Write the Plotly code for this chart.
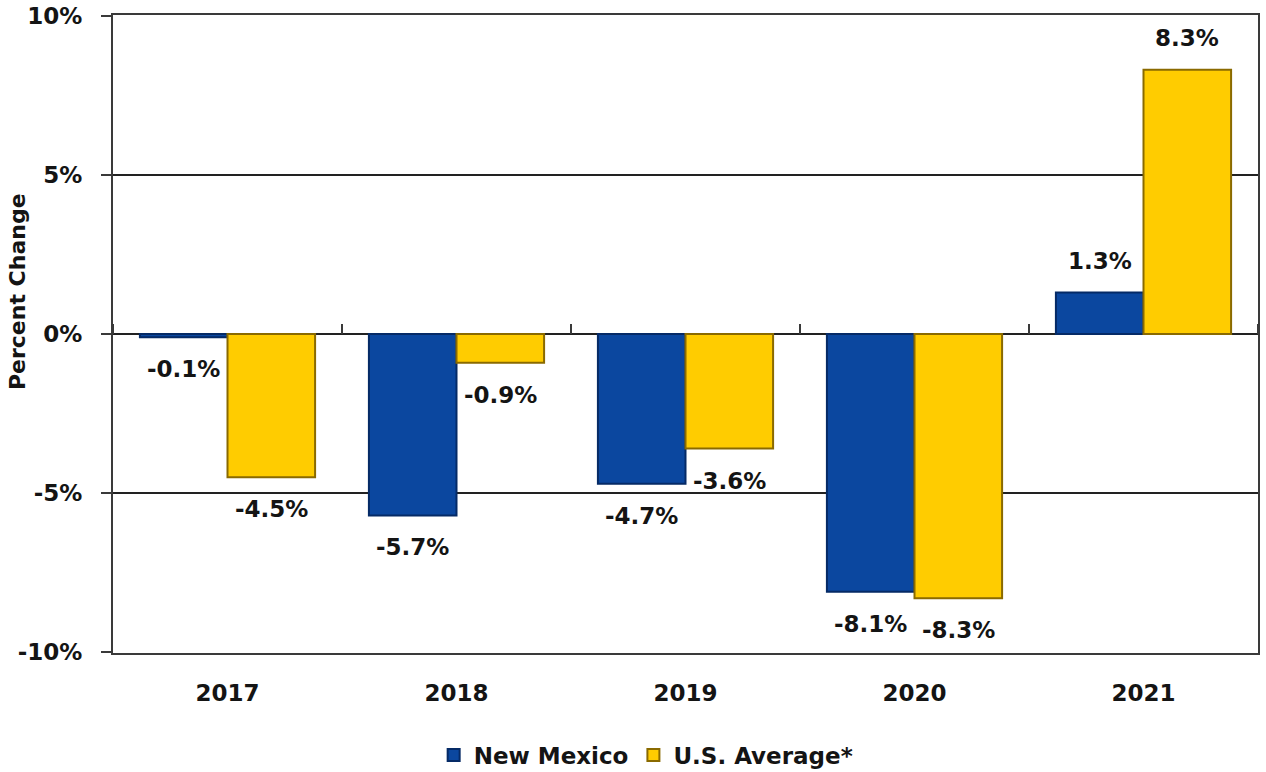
import plotly.graph_objects as go

# Annual percent change, New Mexico vs. U.S. average
years = ["2017", "2018", "2019", "2020", "2021"]
new_mexico = [-0.1, -5.7, -4.7, -8.1, 1.3]
us_average = [-4.5, -0.9, -3.6, -8.3, 8.3]
y_ticks = [-10, -5, 0, 5, 10]
y_tick_labels = ["-10%", "-5%", "0%", "5%", "10%"]

FONT = "DejaVu Sans"
TEXT_COLOR = "#141414"
AXIS_COLOR = "#3a3a3a"

WIDTH, HEIGHT = 1266, 772
MARGIN = dict(l=113, r=8, t=15, b=119)
BARGAP = 0.235

# Pixel geometry used to place value labels beside each grouped bar
plot_w = WIDTH - MARGIN["l"] - MARGIN["r"]
cat_w = plot_w / len(years)
bar_w = cat_w * (1 - BARGAP) / 2
LABEL_GAP = 32


def pct(v):
    return f"{v:.1f}%"


fig = go.Figure()

series = [
    ("New Mexico", new_mexico, "#0b479f", "#052a66", -bar_w / 2),
    ("U.S. Average*", us_average, "#ffcc00", "#8a6a00", bar_w / 2),
]
for name, values, fill, edge, shift in series:
    fig.add_trace(go.Bar(
        name=name, x=years, y=values,
        marker=dict(color=fill, line=dict(color=edge, width=2)),
    ))

# Helper trace so the zero-line axis carries the category boundaries
fig.add_trace(go.Scatter(
    x=years, y=[0] * len(years), xaxis="x2", mode="markers",
    marker=dict(opacity=0), showlegend=False, hoverinfo="skip",
))

annotations = []
for name, values, fill, edge, shift in series:
    for i, v in enumerate(values):
        annotations.append(dict(
            x=i, y=v, xref="x", yref="y", text=pct(v), showarrow=False,
            xanchor="center", yanchor="middle",
            xshift=shift, yshift=LABEL_GAP if v >= 0 else -LABEL_GAP,
            font=dict(family=FONT, size=23, color=TEXT_COLOR, weight="bold"),
        ))

annotations.append(dict(
    text="Percent Change", textangle=-90,
    xref="paper", yref="paper", x=-0.084, y=0.567,
    xanchor="center", yanchor="middle", showarrow=False,
    font=dict(family=FONT, size=22, color=TEXT_COLOR, weight="bold"),
))

fig.update_layout(
    width=WIDTH, height=HEIGHT,
    margin=MARGIN,
    paper_bgcolor="white", plot_bgcolor="white",
    barmode="group", bargap=BARGAP, bargroupgap=0,
    font=dict(family=FONT, color=TEXT_COLOR),
    showlegend=True,
    legend=dict(
        orientation="h", xref="container", yref="container",
        x=0.51, xanchor="center", y=0.022, yanchor="middle",
        font=dict(family=FONT, size=23, color=TEXT_COLOR, weight="bold"),
        itemwidth=30,
    ),
    xaxis=dict(
        type="category", range=[-0.5, 4.5], automargin=False,
        showline=True, linecolor=AXIS_COLOR, linewidth=2, mirror=True,
        showgrid=False, ticks="",
        tickfont=dict(family=FONT, size=23, color=TEXT_COLOR, weight="bold"),
        ticklabelstandoff=18,
    ),
    xaxis2=dict(
        type="category", range=[-0.5, 4.5], overlaying="x",
        anchor="free", position=0.5, side="top", automargin=False,
        showline=False, showgrid=False, showticklabels=False,
        ticks="outside", tickson="boundaries", ticklen=10,
        tickwidth=2, tickcolor=AXIS_COLOR,
    ),
    yaxis=dict(
        range=[-10.02, 10.02], tickvals=y_ticks, ticktext=y_tick_labels,
        automargin=False,
        showline=True, linecolor=AXIS_COLOR, linewidth=2, mirror=True,
        showgrid=True, gridcolor="#222222", gridwidth=1.5,
        zeroline=True, zerolinecolor="#222222", zerolinewidth=2,
        ticks="outside", ticklen=10, tickwidth=2, tickcolor=AXIS_COLOR,
        tickfont=dict(family=FONT, size=23, color=TEXT_COLOR, weight="bold"),
        ticklabelstandoff=14,
    ),
    annotations=annotations,
)

fig.write_html("out.html")
